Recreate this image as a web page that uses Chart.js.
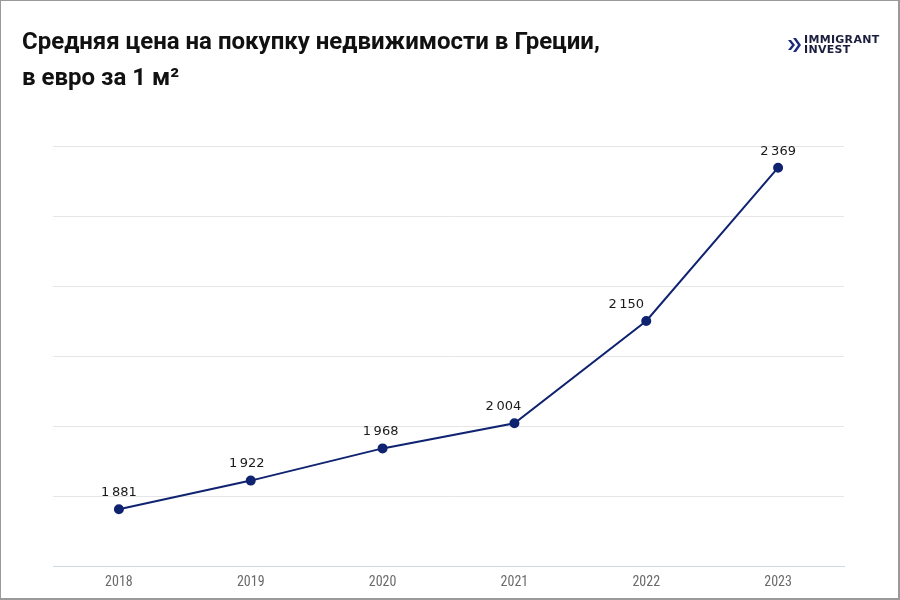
<!DOCTYPE html>
<html>
<head>
<meta charset="utf-8">
<script src="https://cdn.jsdelivr.net/npm/chart.js@4"></script>
<style>
  html, body { margin: 0; padding: 0; background: #fff; }
  #wrap { position: relative; width: 900px; height: 600px; overflow: hidden; }
  #frame { position: absolute; left: 0; top: 0; width: 900px; height: 600px; box-sizing: border-box; border: 1px solid #9a9a9a; border-right-width: 2px; border-bottom-width: 2px; pointer-events: none; }
  #title { position: absolute; left: 22px; top: 23px; font-family: Roboto, 'Noto Sans', sans-serif; font-weight: 700; font-size: 24px; line-height: 36px; color: #111; }
  #logo { position: absolute; left: 788px; top: 35px; display: flex; align-items: center; color: #1b1e3d; }
  #logo .txt { font-family: 'DejaVu Sans', sans-serif; font-weight: 700; font-size: 11px; line-height: 10px; letter-spacing: 0.3px; margin-left: 3px; }
  canvas { position: absolute; left: 0; top: 0; }
</style>
</head>
<body>
<div id="wrap">
  <canvas id="priceChart" width="900" height="600"></canvas>
  <div id="title">Средняя цена на покупку недвижимости в Греции,<br>в евро за 1 м²</div>
  <div id="logo">
    <svg width="13" height="14" viewBox="0 0 13 14">
      <polygon points="0,2 3,2 7,7 3,12 0,12 4,7" fill="#1b2a7a"/>
      <polygon points="5,0 8,0 13,7 8,14 5,14 10,7" fill="#1b2a7a"/>
    </svg>
    <div class="txt">IMMIGRANT<br>INVEST</div>
  </div>
  <div id="frame"></div>
</div>
<script>
  const years = ['2018', '2019', '2020', '2021', '2022', '2023'];
  const pricePerSqm = [1881, 1922, 1968, 2004, 2150, 2369];

  const fmt = v => String(v).replace(/\B(?=(\d{3})+(?!\d))/g, '\u2009');

  // value labels above each point (the two steep ones nudged left, off the line)
  const labelShift = [0, -4, -2, -11, -20, 0];
  const valueLabels = {
    id: 'valueLabels',
    afterDatasetsDraw(chart) {
      const ctx = chart.ctx;
      const meta = chart.getDatasetMeta(0);
      ctx.save();
      ctx.font = '13px "DejaVu Sans", sans-serif';
      ctx.fillStyle = '#1a1a1a';
      ctx.textAlign = 'center';
      ctx.textBaseline = 'bottom';
      meta.data.forEach((pt, i) => {
        ctx.fillText(fmt(pricePerSqm[i]), pt.x + labelShift[i], pt.y - 10);
      });
      ctx.restore();
    }
  };

  new Chart(document.getElementById('priceChart').getContext('2d'), {
    type: 'line',
    data: {
      labels: years,
      datasets: [{
        data: pricePerSqm,
        borderColor: '#0f2370',
        backgroundColor: '#0f2370',
        borderWidth: 2,
        pointRadius: 4,
        pointHoverRadius: 4,
        tension: 0
      }]
    },
    options: {
      responsive: false,
      animation: false,
      layout: { padding: { left: 53, right: 56, top: 146, bottom: 0 } },
      plugins: {
        legend: { display: false },
        tooltip: { enabled: false }
      },
      scales: {
        x: {
          offset: true,
          grid: { display: false, drawTicks: false },
          border: { color: '#cfd8e3', width: 1 },
          ticks: {
            color: '#6a6a6a',
            padding: 8,
            font: { family: '"Liberation Sans Narrow", "Roboto Condensed", Roboto, sans-serif', size: 14 }
          },
          afterFit: s => { s.height = 34; }
        },
        y: {
          min: 1800,
          max: 2400,
          ticks: { display: false, stepSize: 100 },
          grid: { color: '#e6e6e6', drawTicks: false },
          border: { display: false },
          afterFit: s => { s.width = 0; }
        }
      }
    },
    plugins: [valueLabels]
  });
</script>
</body>
</html>
